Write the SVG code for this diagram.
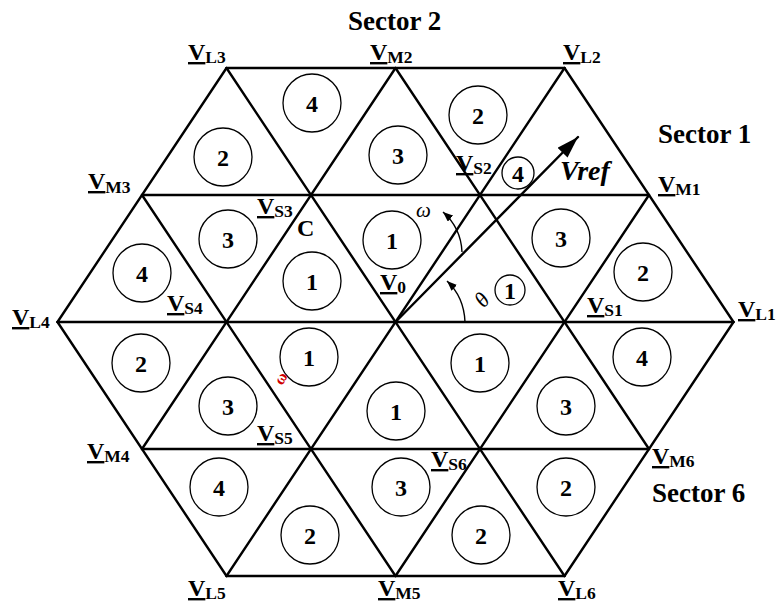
<svg xmlns="http://www.w3.org/2000/svg" width="780" height="607" viewBox="0 0 780 607">
<style>
text{font-family:"Liberation Serif","Times New Roman",serif;fill:#000}
.grid line{stroke:#000;stroke-width:2.4;stroke-linecap:round}
.c{fill:none;stroke:#000;stroke-width:1.3}
.n{font-size:24px;font-weight:bold;text-anchor:middle}
.lbl{font-size:24px;font-weight:bold}
.v{text-decoration:underline}
.s{font-size:17.5px;font-weight:bold}
.sec{font-size:27px;font-weight:bold}
.arc{fill:none;stroke:#000;stroke-width:1.4}
</style>
<defs>
<marker id="big" markerUnits="userSpaceOnUse" markerWidth="24" markerHeight="16" refX="22" refY="7" orient="auto"><path d="M0,0 L22,7 L0,14 z" fill="#000"/></marker>
<marker id="sm" markerUnits="userSpaceOnUse" markerWidth="11" markerHeight="9" refX="10" refY="4" orient="auto"><path d="M0,0 L10,4 L0,8 z" fill="#000"/></marker>
</defs>
<rect width="780" height="607" fill="#fff"/>
<g id="connectors" class="grid">
<line x1="226.5" y1="68" x2="564.5" y2="68"/>
<line x1="142" y1="195" x2="649" y2="195"/>
<line x1="57.5" y1="322" x2="733.5" y2="322"/>
<line x1="142" y1="449" x2="649" y2="449"/>
<line x1="226.5" y1="576" x2="564.5" y2="576"/>
<line x1="57.5" y1="322" x2="226.5" y2="68"/>
<line x1="142" y1="449" x2="395.5" y2="68"/>
<line x1="226.5" y1="576" x2="564.5" y2="68"/>
<line x1="395.5" y1="576" x2="649" y2="195"/>
<line x1="564.5" y1="576" x2="733.5" y2="322"/>
<line x1="57.5" y1="322" x2="226.5" y2="576"/>
<line x1="142" y1="195" x2="395.5" y2="576"/>
<line x1="226.5" y1="68" x2="564.5" y2="576"/>
<line x1="395.5" y1="68" x2="649" y2="449"/>
<line x1="564.5" y1="68" x2="733.5" y2="322"/>
<line x1="395.5" y1="322" x2="578" y2="137" marker-end="url(#big)"/>
<path class="arc" d="M462,252 Q461,228 443,212" marker-end="url(#sm)"/>
<path class="arc" d="M465,322 Q464,297 447,281" marker-end="url(#sm)"/>
</g>
<g id="regions">
<g id="r-a1"><circle class="c" cx="223" cy="157" r="29"/><text class="n" x="223" y="165.5">2</text></g>
<g id="r-a2"><circle class="c" cx="312" cy="103" r="29"/><text class="n" x="312" y="111.5">4</text></g>
<g id="r-a3"><circle class="c" cx="398" cy="155" r="29"/><text class="n" x="398" y="163.5">3</text></g>
<g id="r-a4"><circle class="c" cx="478" cy="115" r="29"/><text class="n" x="478" y="123.5">2</text></g>
<g id="r-a5"><circle class="c" cx="518" cy="173" r="16"/><text class="n" x="518" y="181.5">4</text></g>
<g id="r-b1"><circle class="c" cx="142" cy="273" r="29"/><text class="n" x="142" y="281.5">4</text></g>
<g id="r-b2"><circle class="c" cx="228" cy="239" r="29"/><text class="n" x="228" y="247.5">3</text></g>
<g id="r-b3"><circle class="c" cx="312" cy="281" r="29"/><text class="n" x="312" y="289.5">1</text></g>
<g id="r-b4"><circle class="c" cx="392" cy="240" r="29"/><text class="n" x="392" y="248.5">1</text></g>
<g id="r-b5"><circle class="c" cx="510" cy="290" r="15"/><text class="n" x="510" y="298.5">1</text></g>
<g id="r-b6"><circle class="c" cx="561" cy="238" r="29"/><text class="n" x="561" y="246.5">3</text></g>
<g id="r-b7"><circle class="c" cx="643" cy="272" r="29"/><text class="n" x="643" y="280.5">2</text></g>
<g id="r-c1"><circle class="c" cx="141" cy="363" r="29"/><text class="n" x="141" y="371.5">2</text></g>
<g id="r-c2"><circle class="c" cx="228" cy="406" r="29"/><text class="n" x="228" y="414.5">3</text></g>
<g id="r-c3"><circle class="c" cx="309" cy="357" r="29"/><text class="n" x="309" y="365.5">1</text></g>
<g id="r-c4"><circle class="c" cx="396" cy="411" r="29"/><text class="n" x="396" y="419.5">1</text></g>
<g id="r-c5"><circle class="c" cx="480" cy="363" r="29"/><text class="n" x="480" y="371.5">1</text></g>
<g id="r-c6"><circle class="c" cx="566" cy="406" r="29"/><text class="n" x="566" y="414.5">3</text></g>
<g id="r-c7"><circle class="c" cx="642" cy="357" r="29"/><text class="n" x="642" y="365.5">4</text></g>
<g id="r-d1"><circle class="c" cx="219" cy="487" r="29"/><text class="n" x="219" y="495.5">4</text></g>
<g id="r-d2"><circle class="c" cx="310" cy="535" r="29"/><text class="n" x="310" y="543.5">2</text></g>
<g id="r-d3"><circle class="c" cx="401" cy="487" r="29"/><text class="n" x="401" y="495.5">3</text></g>
<g id="r-d4"><circle class="c" cx="481" cy="535" r="29"/><text class="n" x="481" y="543.5">2</text></g>
<g id="r-d5"><circle class="c" cx="566" cy="487" r="29"/><text class="n" x="566" y="495.5">2</text></g>
</g>
<g id="vectors">
<g id="VL3"><text class="lbl" x="188" y="60"><tspan class="v">V</tspan><tspan class="s" dy="3">L3</tspan></text></g>
<g id="VM2"><text class="lbl" x="370" y="60"><tspan class="v">V</tspan><tspan class="s" dy="3">M2</tspan></text></g>
<g id="VL2"><text class="lbl" x="563" y="60"><tspan class="v">V</tspan><tspan class="s" dy="3">L2</tspan></text></g>
<g id="VM3"><text class="lbl" x="88" y="189"><tspan class="v">V</tspan><tspan class="s" dy="4">M3</tspan></text></g>
<g id="VS3"><text class="lbl" x="257" y="214"><tspan class="v">V</tspan><tspan class="s" dy="3">S3</tspan></text></g>
<g id="VS2"><text class="lbl" x="456" y="171"><tspan class="v">V</tspan><tspan class="s" dy="3">S2</tspan></text></g>
<g id="VM1"><text class="lbl" x="658" y="192"><tspan class="v">V</tspan><tspan class="s" dy="3">M1</tspan></text></g>
<g id="VS4"><text class="lbl" x="167" y="311"><tspan class="v">V</tspan><tspan class="s" dy="3">S4</tspan></text></g>
<g id="VL4"><text class="lbl" x="12" y="325"><tspan class="v">V</tspan><tspan class="s" dy="3">L4</tspan></text></g>
<g id="V0"><text class="lbl" x="380" y="290"><tspan class="v">V</tspan><tspan class="s" dy="3">0</tspan></text></g>
<g id="VS1"><text class="lbl" x="587" y="313"><tspan class="v">V</tspan><tspan class="s" dy="3">S1</tspan></text></g>
<g id="VL1"><text class="lbl" x="738" y="317"><tspan class="v">V</tspan><tspan class="s" dy="3">L1</tspan></text></g>
<g id="VS5"><text class="lbl" x="257" y="441"><tspan class="v">V</tspan><tspan class="s" dy="3">S5</tspan></text></g>
<g id="VM4"><text class="lbl" x="87" y="459"><tspan class="v">V</tspan><tspan class="s" dy="3">M4</tspan></text></g>
<g id="VS6"><text class="lbl" x="431" y="467"><tspan class="v">V</tspan><tspan class="s" dy="3">S6</tspan></text></g>
<g id="VM6"><text class="lbl" x="652" y="464"><tspan class="v">V</tspan><tspan class="s" dy="3">M6</tspan></text></g>
<g id="VL5"><text class="lbl" x="188" y="596"><tspan class="v">V</tspan><tspan class="s" dy="3">L5</tspan></text></g>
<g id="VM5"><text class="lbl" x="378" y="596"><tspan class="v">V</tspan><tspan class="s" dy="3">M5</tspan></text></g>
<g id="VL6"><text class="lbl" x="558" y="596"><tspan class="v">V</tspan><tspan class="s" dy="3">L6</tspan></text></g>
</g>
<g id="annotations">
<text class="sec" x="348" y="30">Sector 2</text>
<text class="sec" x="658" y="143">Sector 1</text>
<text class="sec" x="652" y="502">Sector 6</text>
<text x="297" y="236" font-size="24" font-weight="bold">C</text>
<text x="560" y="180" font-size="28" font-weight="bold" font-style="italic">Vref</text>
<text x="416" y="217" font-size="21" font-style="italic">ω</text>
<text x="482" y="307" font-size="22" font-style="italic" text-anchor="middle" transform="rotate(-50 482 300)">θ</text>
<text x="280" y="384" font-size="16" font-weight="bold" style="fill:#d00000" text-anchor="middle" transform="rotate(-60 280 378)">ω</text>
</g>
</svg>
